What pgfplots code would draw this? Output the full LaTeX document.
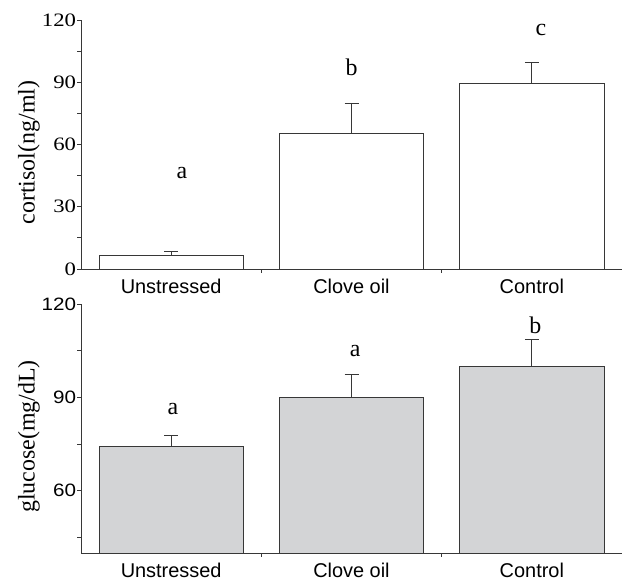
\documentclass[border=0pt]{standalone}
\usepackage{fontspec}
\setmainfont{Liberation Serif}
\newfontfamily\arial{Liberation Sans}
\usepackage{pgfplots}
\pgfplotsset{compat=1.18}
\definecolor{edge}{RGB}{55,55,55}
\definecolor{barfill}{RGB}{211,212,214}

\pgfplotsset{
  panel/.style={
    scale only axis, width=541bp, height=249bp,
    axis lines=left, axis line style={-, edge, line width=0.9bp},
    xmin=-0.5, xmax=2.5,
    ybar, bar width=0.8,
    tick align=outside, major tick length=3.5bp, minor tick length=3.5bp,
    tick style={edge, line width=0.8bp},
    xtick={0.5,1.5}, xticklabels={},
    extra x ticks={0,1,2},
    extra x tick labels={Unstressed,Clove oil,Control},
    extra x tick style={major tick length=0pt},
    xticklabel style={font=\arial\fontsize{20}{20}\selectfont, inner sep=0pt, yshift=-10bp},
    every axis y label/.style={at={(axis description cs:-0.0961,0.468)},
      rotate=90, anchor=center, font=\fontsize{24}{24}\selectfont},
    error bars/y dir=plus, error bars/y explicit,
    error bars/error bar style={edge, line width=0.9bp},
    error bars/error mark options={edge, line width=0.9bp, mark size=7bp, rotate=90},
  },
  barstyle/.style={draw=edge, line width=0.9bp},
}

\begin{document}
\begin{tikzpicture}
\useasboundingbox (-81bp,-312bp) rectangle (541bp,269bp);

% cortisol
\begin{axis}[panel, at={(0,0)}, anchor=south west,
  ymin=0, ymax=120, ytick={0,30,60,90,120}, minor ytick={15,45,75,105},
  yticklabels={0,30,60,90,120},
  yticklabel style={font=\fontsize{19}{19}\selectfont, inner sep=1bp, anchor=east, xscale=1.2, transform shape},
  ylabel={cortisol(ng/ml)}]
\addplot[barstyle, fill=white] coordinates {
  (0,6.4) +- (0,1.9)
  (1,65.1) +- (0,14.9)
  (2,89.6) +- (0,10.1)};
\node[font=\fontsize{24}{24}\selectfont] at (axis cs:0.06,46.3) {a};
\node[font=\fontsize{24}{24}\selectfont] at (axis cs:1,97.3) {b};
\node[font=\fontsize{24}{24}\selectfont] at (axis cs:2.05,115.2) {c};
\end{axis}

% glucose
\begin{axis}[panel, at={(0,-284bp)}, anchor=south west,
  ymin=40, ymax=120, ytick={60,90,120}, minor ytick={45,75,105},
  yticklabels={60,90,120},
  yticklabel style={font=\arial\fontsize{18}{18}\selectfont, inner sep=1bp, anchor=east, xscale=1.15, transform shape},
  ylabel={glucose(mg/dL)}]
\addplot[barstyle, fill=barfill] coordinates {
  (0,74.3) +- (0,3.4)
  (1,89.9) +- (0,7.5)
  (2,99.9) +- (0,8.8)};
\node[font=\fontsize{24}{24}\selectfont] at (axis cs:0.01,86.3) {a};
\node[font=\fontsize{24}{24}\selectfont] at (axis cs:1.02,105) {a};
\node[font=\fontsize{24}{24}\selectfont] at (axis cs:2.02,113) {b};
\end{axis}
\end{tikzpicture}
\end{document}
